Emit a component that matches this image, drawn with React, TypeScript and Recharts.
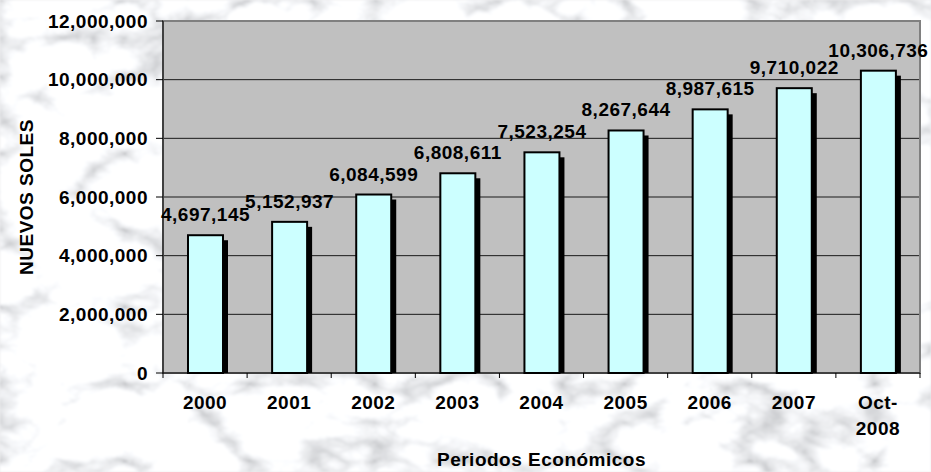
import React from "react";
import {
  BarChart,
  Bar,
  XAxis,
  YAxis,
  CartesianGrid,
  LabelList,
  ReferenceArea,
} from "recharts";

const periods = ["2000", "2001", "2002", "2003", "2004", "2005", "2006", "2007", "Oct-2008"];
const soles = [4697145, 5152937, 6084599, 6808611, 7523254, 8267644, 8987615, 9710022, 10306736];
const yTicks = [0, 2000000, 4000000, 6000000, 8000000, 10000000, 12000000];

const data = periods.map((p, i) => ({ periodo: p, soles: soles[i] }));

const W = 931;
const H = 472;
const PLOT_LEFT = 163;
const PLOT_TOP = 21;
const PLOT_RIGHT = 920;
const PLOT_BOTTOM = 373;
const BAND = (PLOT_RIGHT - PLOT_LEFT) / periods.length;
const FONT = "'Liberation Sans', Arial, sans-serif";
const textStyle = { fontFamily: FONT, fontWeight: "bold" as const, fontSize: 19, fill: "#000", letterSpacing: 0.5 };

const fmt = (v: number) => v.toLocaleString("en-US");

// barra con sombra negra desplazada, como en Excel
const ShadowBar = (props: any) => {
  const { x, y, width, height } = props;
  if (!height || height <= 0) return null;
  return (
    <g>
      <rect x={x + 5} y={y + 5} width={width} height={Math.max(height - 5, 0)} fill="#000" />
      <rect x={x} y={y} width={width} height={height} fill="#ccffff" stroke="#000" strokeWidth={2} />
    </g>
  );
};

const XTick = (props: any) => {
  const { x, payload, index } = props;
  const label: string = payload.value;
  const cut = label.indexOf("-");
  const lines = cut >= 0 ? [label.slice(0, cut + 1), label.slice(cut + 1)] : [label];
  const left = x - BAND / 2;
  const right = x + BAND / 2;
  return (
    <g>
      <line x1={left} x2={left} y1={PLOT_BOTTOM} y2={PLOT_BOTTOM + 5} stroke="#000" />
      {index === periods.length - 1 && (
        <line x1={right} x2={right} y1={PLOT_BOTTOM} y2={PLOT_BOTTOM + 5} stroke="#000" />
      )}
      <text x={x} y={PLOT_BOTTOM + 36} textAnchor="middle" style={textStyle}>
        {lines.map((l, i) => (
          <tspan key={i} x={x} dy={i === 0 ? 0 : 26}>
            {l}
          </tspan>
        ))}
      </text>
    </g>
  );
};

// fondo tipo mármol
const Marble = () => (
  <svg width={W} height={H} style={{ position: "absolute", left: 0, top: 0 }}>
    <defs>
      <filter id="marble" x="0" y="0" width="100%" height="100%">
        <feTurbulence type="turbulence" baseFrequency="0.008 0.013" numOctaves={5} seed={7} />
        <feColorMatrix
          type="matrix"
          values="1.7 0 0 0 0.56  1.7 0 0 0 0.57  1.7 0 0 0 0.59  0 0 0 0 1"
        />
        <feGaussianBlur stdDeviation={1.3} />
      </filter>
    </defs>
    <rect width={W} height={H} fill="#ececee" />
    <rect width={W} height={H} filter="url(#marble)" />
  </svg>
);

export default function App() {
  return (
    <div style={{ position: "fixed", left: 0, top: 0, width: W, height: H, overflow: "hidden" }}>
      <Marble />
      <div style={{ position: "absolute", left: 0, top: 0 }}>
        <BarChart
          width={W}
          height={H}
          data={data}
          margin={{ top: PLOT_TOP, right: W - PLOT_RIGHT, left: 0, bottom: 0 }}
          barCategoryGap={0}
        >
          <CartesianGrid vertical={false} stroke="#1a1a1a" fill="#c0c0c0" fillOpacity={1} />
          <ReferenceArea y1={0} y2={12000000} fill="none" stroke="#808080" strokeWidth={2} />
          <XAxis
            dataKey="periodo"
            height={H - PLOT_BOTTOM}
            axisLine={{ stroke: "#000" }}
            tickLine={false}
            interval={0}
            tick={<XTick />}
            label={{
              value: "Periodos Económicos",
              position: "insideBottom",
              offset: 6,
              style: textStyle,
            }}
          />
          <YAxis
            width={PLOT_LEFT}
            domain={[0, 12000000]}
            ticks={yTicks}
            tickFormatter={fmt}
            axisLine={{ stroke: "#000" }}
            tickLine={{ stroke: "#000" }}
            tickSize={7}
            tickMargin={8}
            tick={textStyle}
            label={{
              value: "NUEVOS SOLES",
              angle: -90,
              position: "insideLeft",
              offset: 26,
              style: { ...textStyle, textAnchor: "middle" },
            }}
          />
          <Bar dataKey="soles" barSize={35} shape={<ShadowBar />} isAnimationActive={false}>
            <LabelList
              dataKey="soles"
              position="top"
              offset={14}
              formatter={(v: any) => fmt(Number(v))}
              style={textStyle}
            />
          </Bar>
        </BarChart>
      </div>
    </div>
  );
}
